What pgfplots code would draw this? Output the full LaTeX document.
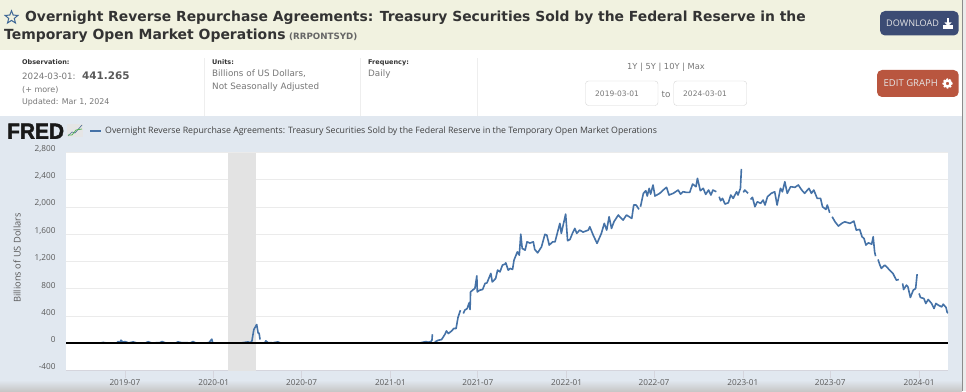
\documentclass[border=0pt]{standalone}
\usepackage{fontspec}
\usepackage{pgfplots}
\pgfplotsset{compat=1.18}
\usetikzlibrary{shapes.geometric}
\setmainfont{DejaVu Sans}
\newfontfamily\osans{Open Sans}
\newfontfamily\fredf[BoldFeatures={FakeBold=2}]{Liberation Sans}
\definecolor{band}{HTML}{F1F2E0}
\definecolor{panel}{HTML}{E1E8F0}
\definecolor{fredblue}{HTML}{4572A7}
\definecolor{txt}{HTML}{333333}
\definecolor{gr}{HTML}{777777}
\definecolor{sep}{HTML}{EEEEEE}
\newcommand{\fs}[1]{\fontsize{#1}{#1}\selectfont}
\pgfplotstableread{
x y
0 1
40 3
70 2
77 12
85 2
105 5
108 25
111 8
114 45
118 15
122 25
130 5
139 20
146 6
165 5
170 22
178 4
195 10
199 25
206 5
228 6
232 20
240 8
258 6
263 25
269 4
285 3
296 8
302 60
304 3
320 5
340 3
360 2
377 20
382 8
385 30
389 200
395 275
398 150
400 147
402 55
nan nan
412 10
414 35
418 10
428 6
439 20
445 3
470 6
520 2
600 3
680 2
733 5
746 25
750 15
756 25
758 45
759 132
nan nan
764 19
771 44
778 54
785 132
788 181
792 143
799 181
803 216
808 216
812 378
817 485
nan nan
823 437
826 485
831 510
835 592
837 495
838 754
844 789
847 804
851 989
852 754
857 779
863 789
868 878
872 886
880 1025
883 901
890 951
894 1073
899 1048
904 1147
909 1161
911 1180
916 1073
920 1098
925 1083
928 1220
935 1342
939 1294
942 1602
945 1392
951 1367
955 1489
961 1470
968 1489
971 1377
977 1327
985 1416
992 1598
996 1588
1001 1441
1008 1489
1013 1489
1023 1760
1026 1613
1035 1896
1039 1504
1044 1524
1049 1613
1054 1686
1058 1613
1064 1661
1071 1632
1082 1661
1085 1710
1092 1588
1100 1466
1109 1613
1115 1760
1120 1661
1125 1857
1130 1686
1135 1783
1144 1882
1147 1857
1154 1808
1161 1882
1172 1833
1176 2029
1181 2029
1187 1965
nan nan
1190 2004
1196 2201
1201 2239
1204 2161
1208 2274
1211 2190
1216 2323
1220 2161
1230 2201
1237 2249
1244 2289
1249 2176
1258 2201
1268 2249
1273 2190
1278 2224
1285 2215
1292 2215
1298 2337
1305 2298
1308 2421
1314 2239
1320 2274
1325 2186
1331 2249
1336 2176
1340 2249
1347 2224
nan nan
1353 2151
1356 2092
1360 2127
1365 2043
1372 2062
1377 2176
1382 2127
1389 2224
1392 2176
1397 2274
1399 2558
nan nan
1403 2215
1406 2249
1413 2201
nan nan
1418 2112
1422 2142
1427 2004
1432 2077
1439 2054
1444 2102
1448 2029
1453 2151
1461 2201
1468 2224
1473 2029
1480 2274
1484 2224
1489 2371
1494 2201
1501 2298
1510 2289
1517 2323
1524 2249
1530 2201
1539 2274
1544 2201
1549 2249
1556 2127
1563 2127
1567 2004
1574 1965
1577 2029
1582 1915
nan nan
1587 1857
1593 1783
1600 1720
1607 1760
1613 1783
1624 1760
1632 1793
1637 1661
1644 1671
1649 1563
1653 1539
1657 1441
1662 1474
1669 1455
1672 1563
1675 1342
1677 1279
nan nan
1682 1230
1686 1147
1689 1098
1696 1147
1701 1113
1706 1073
1713 1025
1720 926
1725 936
nan nan
1733 878
1735 789
1741 853
1744 828
1749 672
1755 779
1760 804
1763 1014
nan nan
1767 731
1770 672
1777 657
1781 584
1786 642
1793 584
1798 510
1802 584
1807 559
1814 534
1817 573
1823 525
1825 460
1827 441
}\rrp
\begin{document}
\begin{tikzpicture}[x=1pt,y=1pt]
\useasboundingbox (0,0) rectangle (966,391);
\fill[white] (0,0) rectangle (966,391);
\fill[band] (0,341) rectangle (962,391);
\fill[panel] (0,0) rectangle (962,275);
\shade[top color=panel,bottom color=black!22] (0,0) rectangle (962,11);
\fill[black!45] (961.5,0) rectangle (963,391);
\fill[black!8] (963,0) rectangle (966,391);
% title
\node[anchor=west,text=txt,inner sep=0pt] at (25,373) {\fs{13.88}\bfseries Overnight Reverse Repurchase Agreements: Treasury Securities Sold by the Federal Reserve in the};
\node[anchor=west,text=txt,inner sep=0pt] at (4,355.5) {\fs{13.95}\bfseries Temporary Open Market Operations};
\node[anchor=west,text=black!60,inner sep=0pt] at (289,354.5) {\fs{8.7}\bfseries (RRPONTSYD)};
\node[star,star points=5,star point ratio=2.3,draw=fredblue!90!black,line width=1pt,fill=none,minimum size=13.5pt,inner sep=0pt] at (11.5,373.5) {};
% info row
\foreach \xx in {204,360,477} \draw[sep,line width=.7pt] (\xx,275) -- (\xx,333);
\node[anchor=west,text=txt,inner sep=0pt] at (22,328.5) {\fs{6.5}\bfseries Observation:};
\node[anchor=west,text=gr,inner sep=0pt] at (22,315) {\fs{8.7}2024-03-01:};
\node[anchor=west,text=black!65,inner sep=0pt] at (82,315) {\fs{10.4}\bfseries 441.265};
\node[anchor=west,text=gr,inner sep=0pt] at (22,301) {\fs{8}(+ more)};
\node[anchor=west,text=gr,inner sep=0pt] at (22,288.5) {\fs{7.9}Updated: Mar 1, 2024};
\node[anchor=west,text=txt,inner sep=0pt] at (212,328.5) {\fs{6.5}\bfseries Units:};
\node[anchor=west,text=gr,inner sep=0pt] at (212,317) {\fs{8.8}Billions of US Dollars,};
\node[anchor=west,text=gr,inner sep=0pt] at (212,304) {\fs{8.8}Not Seasonally Adjusted};
\node[anchor=west,text=txt,inner sep=0pt] at (368,328.5) {\fs{6.5}\bfseries Frequency:};
\node[anchor=west,text=gr,inner sep=0pt] at (368,317) {\fs{8.8}Daily};
% date range
\node[text=gr,inner sep=0pt] at (666,323.5) {\fs{8.3}1Y | 5Y | 10Y | Max};
\draw[sep!90!black,rounded corners=3pt,fill=white] (585.5,285.5) rectangle (658,310);
\draw[sep!90!black,rounded corners=3pt,fill=white] (673.7,285.5) rectangle (746.7,310);
\node[text=gr,inner sep=0pt] at (617,297.5) {\fs{7.5}2019-03-01};
\node[text=gr,inner sep=0pt] at (705,297.5) {\fs{7.5}2024-03-01};
\node[text=gr,inner sep=0pt] at (666,297) {\fs{8.8}to};
% buttons
\fill[fill={rgb,255:red,60;green,76;blue,116},rounded corners=5pt] (880,355.5) rectangle (958.7,380);
\node[anchor=west,text=white!90!black,inner sep=0pt] at (886,367.5) {\osans\fs{9.1}DOWNLOAD};
\fill[white] (943,362) rectangle (953,365.5);
\fill[white] (946.8,365) rectangle (949.2,372.5);
\fill[white] (944.5,368.5) -- (951.5,368.5) -- (948,364.6) -- cycle;
\fill[fill={rgb,255:red,185;green,86;blue,63},rounded corners=5pt] (877,294) rectangle (958.7,321);
\node[anchor=west,text=white!90!black,inner sep=0pt] at (883.5,307.5) {\osans\fs{9.5}EDIT GRAPH};
\draw[white,line width=1.4pt,dash pattern=on 1.9pt off 1.3pt] (947.5,307.5) circle (4.4);
\node[circle,draw=white,line width=2.4pt,minimum size=6pt,inner sep=0pt] at (947.5,307.5) {};
% legend strip
\node[anchor=west,text=black!90,inner sep=0pt,xscale=.95] at (7,259.8) {\fredf\fs{22}\bfseries FRED};
\fill[black!10] (67,254) rectangle (83,267);
\draw[fredblue!70!gr,line width=.7pt] (68,255) -- (72,259) -- (75,258) -- (82,266);
\draw[green!40!gray,line width=.7pt] (68,256) -- (72,256) -- (76,261) -- (82,262);
\draw[fredblue,line width=1.2pt] (90,260) -- (101,260);
\node[anchor=west,text=black!75,inner sep=0pt] at (105,260) {\osans\fs{8.8}Overnight Reverse Repurchase Agreements: Treasury Securities Sold by the Federal Reserve in the Temporary Open Market Operations};
\node[rotate=90,text=black!65,inner sep=0pt] at (17,133) {\osans\fs{9.3}Billions of US Dollars};
% chart
\begin{axis}[
  at={(66pt,20.5pt)},anchor=south west,
  width=882pt,height=218pt,scale only axis,
  xmin=0,xmax=1827,ymin=-400,ymax=2800,
  axis background/.style={fill=white},
  axis x line*=bottom,axis y line*=left,
  x axis line style={-,draw=blue!10!gray!30},
  y axis line style={draw=none},
  ytick={-400,0,400,800,1200,1600,2000,2400,2800},
  xtick={122,306,488,672,853,1037,1218,1402,1583,1767},
  xticklabels={2019-07,2020-01,2020-07,2021-01,2021-07,2022-01,2022-07,2023-01,2023-07,2024-01},
  scaled y ticks=false,
  /pgf/number format/assume math mode=true,
  /pgf/number format/1000 sep={,},
  ymajorgrids,
  grid style={draw=black!8,line width=.8pt},
  ytick style={draw=none},
  major tick length=7pt,
  xtick style={draw=blue!10!gray!30,line width=.6pt},
  tick align=outside,
  ticklabel style={font=\osans\fs{8.2},text=black!65},
  yticklabel style={anchor=east,xshift=0pt,yshift=3.5pt},
  xticklabel style={yshift=1pt},
  unbounded coords=jump,
  clip=true,
]
\addplot[fill=black!11,draw=none,forget plot] coordinates {(335,-400) (394,-400) (394,2800) (335,2800)} --cycle;
\addplot[fredblue,line width=1.6pt,line join=round,mark=none] table[x=x,y=y] {\rrp};
\addplot[black,line width=2pt,forget plot] coordinates {(0,0) (1827,0)};
\end{axis}
\end{tikzpicture}
\end{document}
